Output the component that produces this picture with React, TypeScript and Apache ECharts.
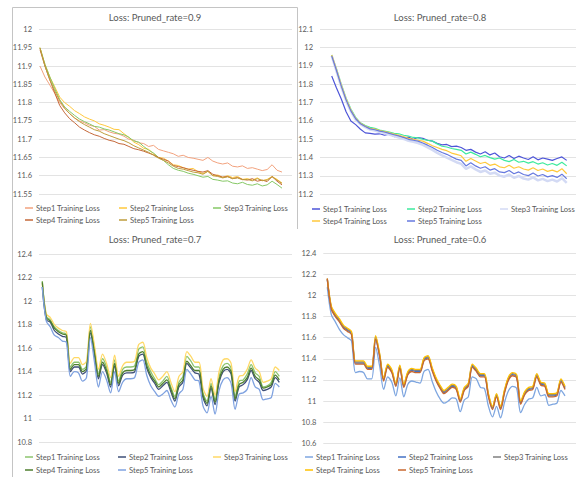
import React, { useEffect, useRef } from "react";
import * as echarts from "echarts";

const FONT = "Lato, 'Noto Sans', sans-serif";

const stepNames = [
  "Step1 Training Loss",
  "Step2 Training Loss",
  "Step3 Training Loss",
  "Step4 Training Loss",
  "Step5 Training Loss",
];

const titles = [
  "Loss: Pruned_rate=0.9",
  "Loss: Pruned_rate=0.8",
  "Loss: Pruned_rate=0.7",
  "Loss: Pruned_rate=0.6",
];

// ---- Panel 1: Pruned_rate=0.9 ----
const p1s1 = [11.900, 11.870, 11.848, 11.825, 11.800, 11.783, 11.770, 11.758, 11.750, 11.745, 11.738, 11.735, 11.725, 11.726, 11.720, 11.716, 11.714, 11.708, 11.700, 11.697, 11.690, 11.688, 11.680, 11.683, 11.672, 11.668, 11.664, 11.660, 11.653, 11.656, 11.650, 11.648, 11.645, 11.642, 11.650, 11.640, 11.635, 11.632, 11.635, 11.626, 11.624, 11.627, 11.620, 11.622, 11.618, 11.614, 11.617, 11.630, 11.615, 11.610];
const p1s2 = [11.950, 11.905, 11.870, 11.843, 11.815, 11.800, 11.790, 11.778, 11.770, 11.761, 11.755, 11.750, 11.742, 11.738, 11.733, 11.727, 11.726, 11.715, 11.705, 11.692, 11.685, 11.675, 11.672, 11.660, 11.650, 11.648, 11.640, 11.630, 11.628, 11.622, 11.618, 11.620, 11.611, 11.606, 11.612, 11.600, 11.602, 11.596, 11.600, 11.595, 11.598, 11.590, 11.592, 11.588, 11.594, 11.586, 11.590, 11.598, 11.590, 11.580];
const p1s3 = [11.950, 11.905, 11.870, 11.838, 11.808, 11.788, 11.776, 11.765, 11.755, 11.748, 11.742, 11.735, 11.733, 11.728, 11.725, 11.720, 11.715, 11.712, 11.705, 11.695, 11.692, 11.680, 11.670, 11.662, 11.650, 11.642, 11.630, 11.620, 11.615, 11.612, 11.607, 11.604, 11.600, 11.596, 11.598, 11.590, 11.588, 11.585, 11.586, 11.580, 11.578, 11.582, 11.576, 11.574, 11.578, 11.572, 11.575, 11.585, 11.576, 11.566];
const p1s4 = [11.945, 11.900, 11.862, 11.826, 11.792, 11.772, 11.756, 11.745, 11.733, 11.725, 11.718, 11.712, 11.708, 11.702, 11.697, 11.694, 11.688, 11.686, 11.680, 11.674, 11.671, 11.667, 11.662, 11.657, 11.650, 11.645, 11.640, 11.628, 11.625, 11.622, 11.618, 11.615, 11.612, 11.610, 11.614, 11.604, 11.600, 11.596, 11.598, 11.592, 11.595, 11.590, 11.588, 11.592, 11.585, 11.588, 11.584, 11.598, 11.585, 11.575];
const p1s5 = [11.950, 11.900, 11.862, 11.832, 11.805, 11.785, 11.770, 11.758, 11.748, 11.740, 11.733, 11.726, 11.722, 11.715, 11.710, 11.705, 11.700, 11.696, 11.690, 11.682, 11.676, 11.670, 11.664, 11.656, 11.648, 11.642, 11.635, 11.626, 11.620, 11.618, 11.614, 11.610, 11.608, 11.604, 11.612, 11.600, 11.598, 11.594, 11.597, 11.592, 11.594, 11.589, 11.590, 11.586, 11.592, 11.587, 11.588, 11.597, 11.588, 11.579];

// ---- Panel 2: Pruned_rate=0.8 ----
const p2s1 = [11.845, 11.780, 11.720, 11.650, 11.600, 11.580, 11.555, 11.535, 11.532, 11.528, 11.530, 11.522, 11.528, 11.515, 11.520, 11.508, 11.512, 11.500, 11.510, 11.505, 11.495, 11.490, 11.478, 11.470, 11.472, 11.460, 11.463, 11.455, 11.440, 11.445, 11.430, 11.420, 11.432, 11.415, 11.425, 11.405, 11.398, 11.412, 11.395, 11.408, 11.398, 11.390, 11.405, 11.388, 11.398, 11.392, 11.385, 11.395, 11.404, 11.385];
const p2s2 = [11.960, 11.885, 11.800, 11.725, 11.665, 11.620, 11.590, 11.575, 11.565, 11.560, 11.550, 11.545, 11.540, 11.532, 11.530, 11.522, 11.518, 11.510, 11.508, 11.500, 11.495, 11.490, 11.475, 11.462, 11.458, 11.450, 11.445, 11.440, 11.420, 11.430, 11.418, 11.405, 11.412, 11.400, 11.392, 11.398, 11.385, 11.378, 11.390, 11.375, 11.380, 11.370, 11.378, 11.365, 11.372, 11.360, 11.368, 11.358, 11.375, 11.355];
const p2s3 = [11.955, 11.872, 11.786, 11.712, 11.652, 11.608, 11.582, 11.566, 11.553, 11.548, 11.540, 11.535, 11.526, 11.518, 11.510, 11.502, 11.492, 11.486, 11.480, 11.470, 11.456, 11.442, 11.426, 11.412, 11.400, 11.388, 11.375, 11.366, 11.338, 11.352, 11.336, 11.322, 11.330, 11.312, 11.318, 11.302, 11.296, 11.308, 11.290, 11.300, 11.286, 11.280, 11.292, 11.276, 11.284, 11.272, 11.280, 11.270, 11.288, 11.262];
const p2s4 = [11.960, 11.880, 11.795, 11.720, 11.660, 11.615, 11.588, 11.572, 11.560, 11.556, 11.548, 11.542, 11.536, 11.528, 11.522, 11.515, 11.505, 11.500, 11.495, 11.490, 11.478, 11.465, 11.455, 11.445, 11.438, 11.425, 11.418, 11.410, 11.380, 11.395, 11.382, 11.368, 11.375, 11.358, 11.365, 11.350, 11.345, 11.358, 11.342, 11.350, 11.338, 11.332, 11.345, 11.330, 11.338, 11.325, 11.332, 11.322, 11.340, 11.312];
const p2s5 = [11.955, 11.875, 11.790, 11.715, 11.655, 11.612, 11.585, 11.570, 11.557, 11.552, 11.545, 11.540, 11.532, 11.525, 11.518, 11.510, 11.500, 11.495, 11.490, 11.480, 11.468, 11.455, 11.440, 11.428, 11.418, 11.405, 11.392, 11.385, 11.355, 11.372, 11.355, 11.342, 11.350, 11.332, 11.340, 11.322, 11.318, 11.330, 11.312, 11.322, 11.308, 11.302, 11.316, 11.300, 11.308, 11.295, 11.302, 11.292, 11.310, 11.285];

// ---- Panel 3: Pruned_rate=0.7 ----
const p3s1 = [12.17, 11.87, 11.84, 11.78, 11.75, 11.73, 11.72, 11.44, 11.48, 11.48, 11.42, 11.45, 11.78, 11.59, 11.38, 11.51, 11.44, 11.31, 11.50, 11.32, 11.42, 11.44, 11.44, 11.45, 11.59, 11.61, 11.48, 11.40, 11.34, 11.29, 11.32, 11.36, 11.27, 11.19, 11.31, 11.36, 11.53, 11.49, 11.44, 11.44, 11.22, 11.15, 11.30, 11.16, 11.36, 11.45, 11.47, 11.43, 11.19, 11.32, 11.33, 11.38, 11.46, 11.39, 11.36, 11.27, 11.28, 11.31, 11.40, 11.36];
const p3s2 = [12.12, 11.84, 11.82, 11.75, 11.72, 11.70, 11.69, 11.40, 11.44, 11.44, 11.38, 11.41, 11.73, 11.54, 11.34, 11.46, 11.39, 11.27, 11.45, 11.28, 11.37, 11.39, 11.39, 11.40, 11.53, 11.55, 11.43, 11.35, 11.30, 11.25, 11.28, 11.31, 11.23, 11.15, 11.27, 11.31, 11.47, 11.43, 11.39, 11.38, 11.18, 11.11, 11.26, 11.12, 11.31, 11.40, 11.42, 11.38, 11.15, 11.27, 11.29, 11.33, 11.41, 11.34, 11.31, 11.24, 11.25, 11.27, 11.35, 11.31];
const p3s3 = [12.15, 11.89, 11.86, 11.80, 11.77, 11.75, 11.74, 11.47, 11.52, 11.52, 11.46, 11.49, 11.81, 11.62, 11.42, 11.55, 11.47, 11.35, 11.54, 11.36, 11.45, 11.48, 11.48, 11.49, 11.63, 11.65, 11.52, 11.43, 11.38, 11.33, 11.36, 11.40, 11.31, 11.23, 11.36, 11.40, 11.57, 11.53, 11.48, 11.48, 11.26, 11.19, 11.34, 11.20, 11.40, 11.50, 11.51, 11.47, 11.23, 11.36, 11.37, 11.42, 11.50, 11.43, 11.40, 11.31, 11.32, 11.34, 11.44, 11.41];
const p3s4 = [12.16, 11.86, 11.83, 11.77, 11.74, 11.72, 11.71, 11.42, 11.46, 11.46, 11.40, 11.43, 11.75, 11.56, 11.36, 11.48, 11.41, 11.29, 11.47, 11.30, 11.39, 11.41, 11.41, 11.42, 11.55, 11.57, 11.45, 11.37, 11.32, 11.27, 11.30, 11.33, 11.25, 11.17, 11.29, 11.33, 11.49, 11.45, 11.41, 11.41, 11.20, 11.13, 11.28, 11.14, 11.33, 11.42, 11.44, 11.40, 11.17, 11.29, 11.31, 11.35, 11.43, 11.36, 11.33, 11.26, 11.27, 11.29, 11.37, 11.33];
const p3s5 = [12.12, 11.83, 11.78, 11.71, 11.69, 11.66, 11.65, 11.36, 11.40, 11.39, 11.32, 11.35, 11.69, 11.48, 11.27, 11.40, 11.33, 11.22, 11.40, 11.23, 11.31, 11.34, 11.34, 11.35, 11.48, 11.50, 11.37, 11.28, 11.23, 11.19, 11.21, 11.24, 11.16, 11.10, 11.21, 11.25, 11.42, 11.38, 11.33, 11.32, 11.11, 11.05, 11.19, 11.04, 11.24, 11.33, 11.35, 11.30, 11.08, 11.21, 11.22, 11.25, 11.35, 11.27, 11.25, 11.16, 11.17, 11.18, 11.30, 11.27];

// ---- Panel 4: Pruned_rate=0.6 ----
const p4s1 = [12.08, 11.82, 11.75, 11.68, 11.63, 11.60, 11.57, 11.27, 11.28, 11.27, 11.21, 11.21, 11.51, 11.33, 11.11, 11.23, 11.18, 11.05, 11.22, 11.04, 11.16, 11.19, 11.18, 11.17, 11.28, 11.30, 11.19, 11.09, 11.02, 10.98, 11.00, 11.03, 11.02, 10.90, 11.01, 11.04, 11.23, 11.21, 11.13, 11.12, 10.95, 10.85, 10.95, 10.84, 10.99, 11.10, 11.14, 11.12, 10.89, 10.97, 11.02, 11.03, 11.13, 11.05, 11.06, 10.96, 10.97, 10.98, 11.10, 11.05];
const p4s2 = [12.15, 11.88, 11.81, 11.76, 11.70, 11.67, 11.64, 11.36, 11.36, 11.36, 11.31, 11.31, 11.58, 11.43, 11.20, 11.33, 11.28, 11.15, 11.32, 11.14, 11.26, 11.29, 11.28, 11.28, 11.39, 11.41, 11.30, 11.20, 11.13, 11.08, 11.11, 11.14, 11.12, 11.00, 11.11, 11.15, 11.33, 11.29, 11.24, 11.24, 11.05, 10.93, 11.05, 10.93, 11.09, 11.21, 11.25, 11.23, 10.98, 11.07, 11.11, 11.12, 11.24, 11.16, 11.15, 11.05, 11.05, 11.06, 11.19, 11.12];
const p4s3 = [12.16, 11.89, 11.82, 11.77, 11.71, 11.68, 11.65, 11.37, 11.37, 11.37, 11.32, 11.32, 11.61, 11.44, 11.21, 11.34, 11.29, 11.16, 11.33, 11.15, 11.27, 11.30, 11.29, 11.29, 11.40, 11.42, 11.31, 11.21, 11.14, 11.09, 11.12, 11.15, 11.13, 11.01, 11.12, 11.16, 11.34, 11.30, 11.25, 11.25, 11.06, 10.94, 11.06, 10.94, 11.10, 11.22, 11.26, 11.24, 10.99, 11.08, 11.12, 11.13, 11.25, 11.17, 11.16, 11.06, 11.06, 11.07, 11.20, 11.13];
const p4s4 = [12.16, 11.90, 11.83, 11.78, 11.72, 11.69, 11.66, 11.38, 11.38, 11.38, 11.33, 11.33, 11.62, 11.45, 11.22, 11.35, 11.30, 11.17, 11.34, 11.16, 11.28, 11.31, 11.30, 11.30, 11.41, 11.43, 11.32, 11.22, 11.15, 11.10, 11.13, 11.16, 11.14, 11.02, 11.13, 11.17, 11.35, 11.31, 11.26, 11.26, 11.07, 10.95, 11.07, 10.95, 11.11, 11.23, 11.27, 11.25, 11.00, 11.09, 11.13, 11.14, 11.26, 11.18, 11.17, 11.07, 11.07, 11.08, 11.21, 11.14];
const p4s5 = [12.16, 11.87, 11.80, 11.75, 11.69, 11.66, 11.63, 11.35, 11.35, 11.35, 11.30, 11.30, 11.59, 11.42, 11.19, 11.32, 11.27, 11.14, 11.31, 11.13, 11.25, 11.28, 11.27, 11.27, 11.38, 11.40, 11.29, 11.19, 11.12, 11.07, 11.10, 11.13, 11.11, 10.99, 11.10, 11.14, 11.32, 11.28, 11.23, 11.23, 11.04, 10.92, 11.04, 10.92, 11.08, 11.20, 11.24, 11.22, 10.97, 11.06, 11.10, 11.11, 11.23, 11.15, 11.14, 11.04, 11.04, 11.05, 11.18, 11.11];

const panels = [
  {
    data: [p1s1, p1s2, p1s3, p1s4, p1s5],
    colors: ["#F2A27E", "#FFC83D", "#86C866", "#C4683A", "#BE9C3C"],
    width: 1,
    smooth: false,
    grid: { left: 39, top: 29.5, width: 253, height: 164.5 },
    y: { min: 11.55, max: 12, interval: 0.05 },
    x: { min: -0.2, max: 51.03 },
    title: [155, 17],
    legendRows: [208, 220],
    legendX: [25, 119, 213],
  },
  {
    data: [p2s1, p2s2, p2s3, p2s4, p2s5],
    colors: ["#4D55D8", "#3EEA9E", "#D3DAF4", "#FFC93C", "#6679DF"],
    width: 1.2,
    smooth: false,
    grid: { left: 320, top: 29.3, width: 256, height: 165 },
    y: { min: 11.2, max: 12.1, interval: 0.1 },
    x: { min: -2.44, max: 50.94 },
    title: [440, 17],
    legendRows: [209, 221],
    legendX: [312, 407, 500],
  },
  {
    data: [p3s1, p3s2, p3s3, p3s4, p3s5],
    colors: ["#8DC46E", "#3E4F77", "#FFD966", "#4E7E2E", "#7FA2E0"],
    width: 1.3,
    smooth: 0.3,
    grid: { left: 39, top: 254, width: 253, height: 188.3 },
    y: { min: 10.8, max: 12.4, interval: 0.2 },
    x: { min: -0.82, max: 62.16 },
    title: [155, 239],
    legendRows: [457, 470],
    legendX: [25, 118, 213],
  },
  {
    data: [p4s1, p4s2, p4s3, p4s4, p4s5],
    colors: ["#7EA6E0", "#4472C4", "#7F7F7F", "#FFC000", "#C8672F"],
    width: 1.3,
    smooth: 0.3,
    grid: { left: 323.3, top: 253.3, width: 252.7, height: 190 },
    y: { min: 10.6, max: 12.4, interval: 0.2 },
    x: { min: -0.99, max: 61.73 },
    title: [440, 239],
    legendRows: [457, 470],
    legendX: [305, 398, 493],
  },
];

export default function App() {
  const ref = useRef<HTMLDivElement>(null);
  useEffect(() => {
    if (!ref.current) return;
    const chart = echarts.init(ref.current, undefined, { renderer: "svg" });
    const labelMap: Record<string, string> = {};
    const grid: any[] = [];
    const xAxis: any[] = [];
    const yAxis: any[] = [];
    const series: any[] = [];
    const legend: any[] = [];
    const graphic: any[] = [];
    panels.forEach((p, k) => {
      grid.push({ ...p.grid, containLabel: false });
      xAxis.push({
        type: "value",
        gridIndex: k,
        min: p.x.min,
        max: p.x.max,
        show: false,
      });
      yAxis.push({
        type: "value",
        gridIndex: k,
        min: p.y.min,
        max: p.y.max,
        interval: p.y.interval,
        axisLine: { show: false },
        axisTick: { show: false },
        splitLine: { lineStyle: { color: "#E3E3E3", width: 1 } },
        axisLabel: { color: "#595959", fontSize: 7.5, fontFamily: FONT, margin: 7 },
      });
      p.data.forEach((arr, j) => {
        const name = `p${k + 1}_s${j + 1}`;
        labelMap[name] = stepNames[j];
        series.push({
          type: "line",
          name,
          xAxisIndex: k,
          yAxisIndex: k,
          data: arr.map((v, i) => [i, v]),
          symbol: "none",
          smooth: p.smooth,
          lineStyle: { color: p.colors[j], width: j === 2 && k === 1 ? 2.5 : p.width },
          itemStyle: { color: p.colors[j] },
          z: 2,
        });
        const row = j < 3 ? 0 : 1;
        const col = j < 3 ? j : j - 3;
        legend.push({
          data: [name],
          left: p.legendX[col],
          top: p.legendRows[row] - 5,
          padding: 0,
          icon: "rect",
          itemWidth: 8,
          itemHeight: 1.5,
          itemGap: 0,
          selectedMode: false,
          formatter: (n: string) => labelMap[n],
          textStyle: { color: "#595959", fontSize: 7.6, fontFamily: FONT, lineHeight: 10, padding: [0, 0, 0, -2] },
        });
      });
      graphic.push({
        type: "text",
        x: p.title[0],
        y: p.title[1],
        style: {
          text: titles[k],
          align: "center",
          verticalAlign: "middle",
          fontSize: 9.5,
          fontFamily: FONT,
          fill: "#595959",
        },
      });
    });
    graphic.push(
      { type: "line", shape: { x1: 12.5, y1: 7.5, x2: 297.5, y2: 7.5 }, style: { stroke: "#C4C4C4", lineWidth: 1 } },
      { type: "line", shape: { x1: 12.5, y1: 7.5, x2: 12.5, y2: 477 }, style: { stroke: "#C4C4C4", lineWidth: 1 } },
      { type: "line", shape: { x1: 297.5, y1: 7.5, x2: 297.5, y2: 229 }, style: { stroke: "#C4C4C4", lineWidth: 1 } }
    );
    chart.setOption({
      animation: false,
      backgroundColor: "#FFFFFF",
      textStyle: { fontFamily: FONT },
      grid,
      xAxis,
      yAxis,
      series,
      legend,
      graphic,
    });
    return () => chart.dispose();
  }, []);
  return (
    <div
      ref={ref}
      style={{ position: "fixed", left: 0, top: 0, width: 576, height: 477 }}
    />
  );
}
